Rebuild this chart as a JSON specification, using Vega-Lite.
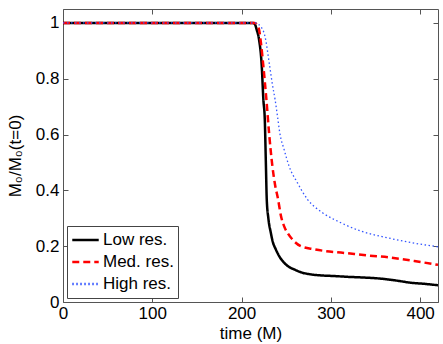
{
  "$schema": "https://vega.github.io/schema/vega-lite/v6.json",
  "width": 375,
  "height": 293,
  "autosize": {"type": "none"},
  "padding": {"left": 63, "top": 9, "right": 5, "bottom": 42},
  "background": "white",
  "config": {
    "font": "Liberation Sans",
    "view": {"stroke": "#555", "strokeWidth": 1},
    "axis": {
      "grid": false,
      "domain": false,
      "labelFontSize": 17,
      "titleFontSize": 17,
      "titleFontWeight": "normal",
      "labelColor": "black",
      "titleColor": "black",
      "tickColor": "#555",
      "tickSize": -5,
      "labelFont": "Liberation Sans",
      "titleFont": "Liberation Sans"
    },
    "legend": {
      "labelFont": "Liberation Sans",
      "labelFontSize": 17,
      "labelColor": "black"
    }
  },
  "data": {
    "values": [
      {"t": 0, "v": 1, "res": "Low res."},
      {"t": 213, "v": 1, "res": "Low res."},
      {"t": 215, "v": 0.995, "res": "Low res."},
      {"t": 217, "v": 0.975, "res": "Low res."},
      {"t": 219.6, "v": 0.94, "res": "Low res."},
      {"t": 222.6, "v": 0.845, "res": "Low res."},
      {"t": 224.4, "v": 0.726, "res": "Low res."},
      {"t": 226, "v": 0.654, "res": "Low res."},
      {"t": 227.2, "v": 0.5, "res": "Low res."},
      {"t": 228.2, "v": 0.368, "res": "Low res."},
      {"t": 230, "v": 0.3, "res": "Low res."},
      {"t": 232.7, "v": 0.249, "res": "Low res."},
      {"t": 235, "v": 0.215, "res": "Low res."},
      {"t": 238.3, "v": 0.189, "res": "Low res."},
      {"t": 242, "v": 0.165, "res": "Low res."},
      {"t": 247.6, "v": 0.141, "res": "Low res."},
      {"t": 253, "v": 0.126, "res": "Low res."},
      {"t": 258.8, "v": 0.117, "res": "Low res."},
      {"t": 267, "v": 0.106, "res": "Low res."},
      {"t": 277.5, "v": 0.099, "res": "Low res."},
      {"t": 290, "v": 0.095, "res": "Low res."},
      {"t": 303.7, "v": 0.093, "res": "Low res."},
      {"t": 320, "v": 0.09, "res": "Low res."},
      {"t": 341, "v": 0.087, "res": "Low res."},
      {"t": 355, "v": 0.084, "res": "Low res."},
      {"t": 363.6, "v": 0.081, "res": "Low res."},
      {"t": 375, "v": 0.076, "res": "Low res."},
      {"t": 389.8, "v": 0.069, "res": "Low res."},
      {"t": 405, "v": 0.065, "res": "Low res."},
      {"t": 420, "v": 0.06, "res": "Low res."},

      {"t": 0, "v": 1, "res": "Med. res."},
      {"t": 215, "v": 1, "res": "Med. res."},
      {"t": 217, "v": 0.995, "res": "Med. res."},
      {"t": 219.6, "v": 0.976, "res": "Med. res."},
      {"t": 222, "v": 0.92, "res": "Med. res."},
      {"t": 224.4, "v": 0.845, "res": "Med. res."},
      {"t": 227.8, "v": 0.726, "res": "Med. res."},
      {"t": 230.8, "v": 0.606, "res": "Med. res."},
      {"t": 234.5, "v": 0.487, "res": "Med. res."},
      {"t": 237.5, "v": 0.42, "res": "Med. res."},
      {"t": 240.9, "v": 0.368, "res": "Med. res."},
      {"t": 244, "v": 0.31, "res": "Med. res."},
      {"t": 247.6, "v": 0.272, "res": "Med. res."},
      {"t": 252, "v": 0.245, "res": "Med. res."},
      {"t": 257, "v": 0.224, "res": "Med. res."},
      {"t": 266.3, "v": 0.2, "res": "Med. res."},
      {"t": 281.3, "v": 0.189, "res": "Med. res."},
      {"t": 295, "v": 0.182, "res": "Med. res."},
      {"t": 311.2, "v": 0.177, "res": "Med. res."},
      {"t": 341, "v": 0.167, "res": "Med. res."},
      {"t": 367.3, "v": 0.159, "res": "Med. res."},
      {"t": 393.5, "v": 0.147, "res": "Med. res."},
      {"t": 420, "v": 0.133, "res": "Med. res."},

      {"t": 0, "v": 1, "res": "High res."},
      {"t": 216, "v": 1, "res": "High res."},
      {"t": 219, "v": 0.995, "res": "High res."},
      {"t": 222, "v": 0.985, "res": "High res."},
      {"t": 226, "v": 0.955, "res": "High res."},
      {"t": 231.5, "v": 0.845, "res": "High res."},
      {"t": 234.5, "v": 0.78, "res": "High res."},
      {"t": 237.5, "v": 0.726, "res": "High res."},
      {"t": 240.2, "v": 0.666, "res": "High res."},
      {"t": 242.8, "v": 0.606, "res": "High res."},
      {"t": 247.6, "v": 0.547, "res": "High res."},
      {"t": 253.2, "v": 0.487, "res": "High res."},
      {"t": 262.6, "v": 0.427, "res": "High res."},
      {"t": 273.8, "v": 0.368, "res": "High res."},
      {"t": 290.7, "v": 0.32, "res": "High res."},
      {"t": 311.2, "v": 0.284, "res": "High res."},
      {"t": 333.7, "v": 0.254, "res": "High res."},
      {"t": 363.6, "v": 0.23, "res": "High res."},
      {"t": 389.8, "v": 0.213, "res": "High res."},
      {"t": 420, "v": 0.198, "res": "High res."}
    ]
  },
  "resolve": {"axis": {"x": "independent", "y": "independent"}},
  "layer": [
    {
      "mark": {"type": "line", "interpolate": "monotone", "clip": true},
      "encoding": {
        "x": {
          "field": "t", "type": "quantitative",
          "scale": {"domain": [0, 420], "nice": false, "zero": false},
          "axis": {"title": "time (M)", "values": [0, 100, 200, 300, 400], "labelPadding": 8, "titlePadding": 4, "labelFlush": false}
        },
        "y": {
          "field": "v", "type": "quantitative",
          "scale": {"domain": [0, 1.05], "nice": false},
          "axis": {"title": "M₀/M₀(t=0)", "values": [0, 0.2, 0.4, 0.6, 0.8, 1], "format": "~g", "labelPadding": 9, "titlePadding": 11, "labelFlush": false}
        },
        "color": {
          "field": "res", "type": "nominal",
          "scale": {"domain": ["Low res.", "Med. res.", "High res."], "range": ["#000000", "#ff0000", "#3355ff"]},
          "legend": {
            "title": null,
            "orient": "bottom-left",
            "offset": 4,
            "padding": 4,
            "strokeColor": "#444",
            "fillColor": "white",
            "symbolType": "stroke",
            "symbolSize": 700,
            "symbolStrokeWidth": 2.5,
            "labelOffset": 3,
            "clipHeight": 20,
            "rowPadding": 2
          }
        },
        "strokeDash": {
          "field": "res", "type": "nominal",
          "scale": {"domain": ["Low res.", "Med. res.", "High res."], "range": [[1, 0], [7, 4], [1.5, 2.5]]},
          "legend": null
        },
        "strokeWidth": {
          "condition": {"test": "datum.res === 'High res.'", "value": 1.3},
          "value": 2.5
        }
      }
    },
    {
      "mark": {"type": "point", "opacity": 0},
      "encoding": {
        "x": {
          "field": "t", "type": "quantitative",
          "axis": {"orient": "top", "labels": false, "title": null, "values": [0, 100, 200, 300, 400]}
        },
        "y": {
          "field": "v", "type": "quantitative",
          "axis": {"orient": "right", "labels": false, "title": null, "values": [0, 0.2, 0.4, 0.6, 0.8, 1]}
        }
      }
    }
  ]
}
